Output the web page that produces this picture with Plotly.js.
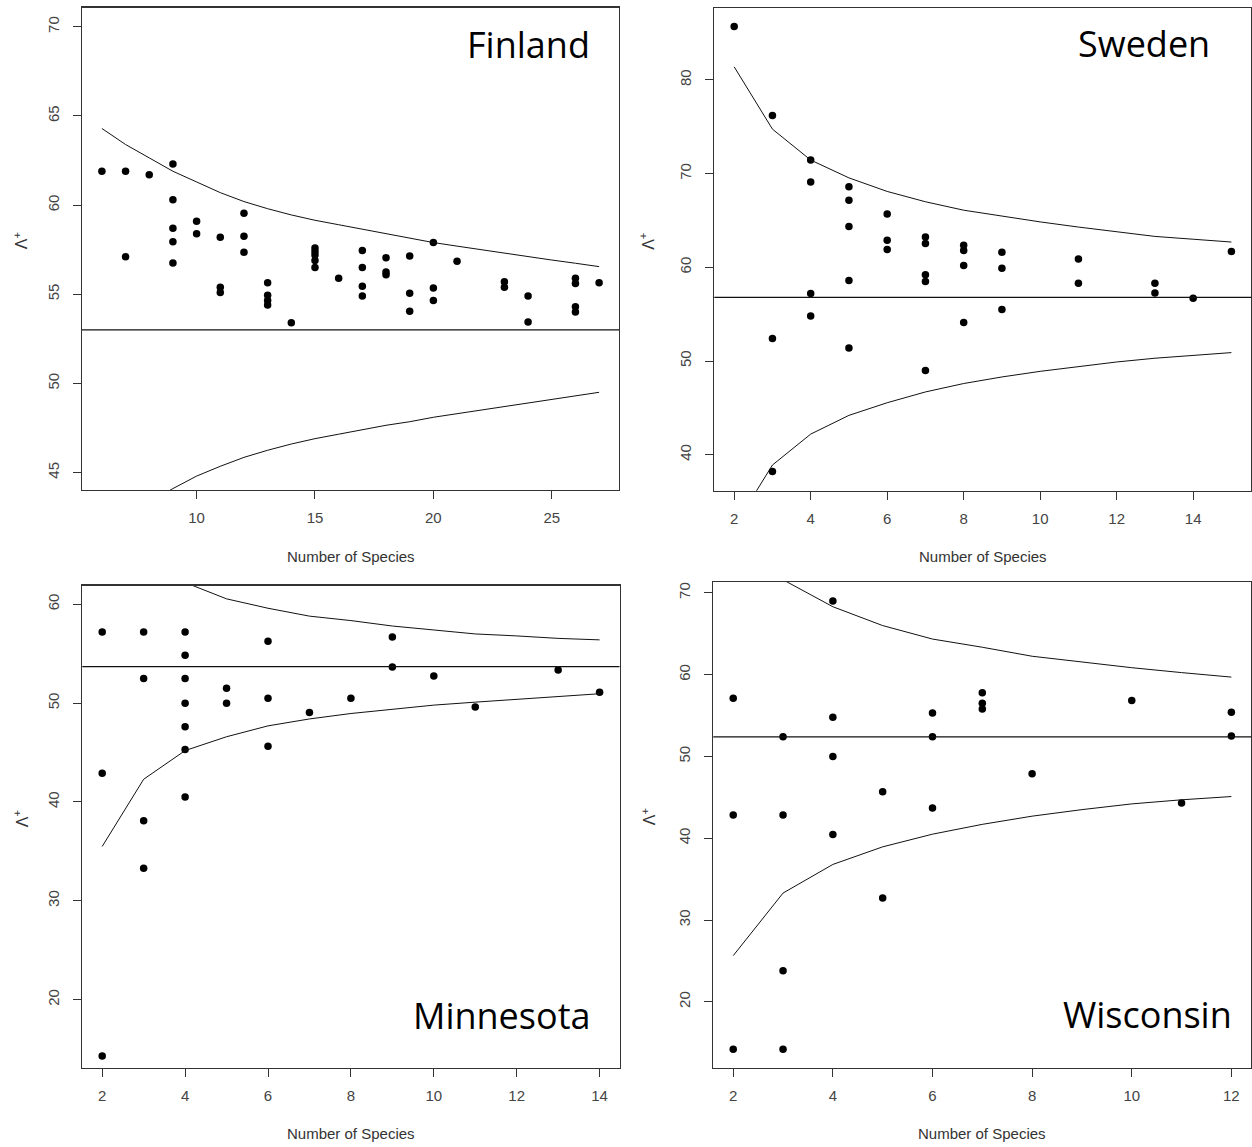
<!DOCTYPE html>
<html>
<head>
<meta charset="utf-8">
<script src="https://cdn.plot.ly/plotly-3.0.1.min.js"></script>
<style>
  html, body { margin: 0; padding: 0; background: #ffffff; }
  #chart { width: 1252px; height: 1147px; }
</style>
</head>
<body>
<div id="chart"></div>
<script>
// ---------- Data ----------
const panelNames = ["Finland", "Sweden", "Minnesota", "Wisconsin"];
const xAxisTitle = "Number of Species";
const yAxisTitle = "Λ<sup>+</sup>";

// Finland
const finX = [6, 7, 7, 8, 9, 9, 9, 9, 9, 10, 10, 11, 11, 11, 12, 12, 12, 13, 13, 13, 13, 14,
              15, 15, 15, 15, 15, 16, 17, 17, 17, 17, 18, 18, 18, 19, 19, 19, 20, 20, 20, 21,
              23, 23, 24, 24, 26, 26, 26, 26, 27];
const finY = [61.9, 61.9, 57.1, 61.7, 62.3, 60.3, 58.7, 57.95, 56.75, 59.1, 58.4, 58.2, 55.4, 55.1,
              59.55, 58.25, 57.35, 55.65, 54.95, 54.65, 54.4, 53.4,
              57.6, 57.4, 57.2, 56.9, 56.5, 55.9, 57.45, 56.5, 55.45, 54.9, 57.05, 56.25, 56.1,
              57.15, 55.05, 54.05, 57.9, 55.35, 54.65, 56.85,
              55.7, 55.4, 54.9, 53.45, 55.9, 55.6, 54.3, 54.0, 55.65];
const finM = [6, 7, 8, 9, 10, 11, 12, 13, 14, 15, 16, 17, 18, 19, 20, 21, 22, 23, 24, 25, 26, 27];
const finUpper = [64.3, 63.4, 62.65, 61.9, 61.3, 60.7, 60.2, 59.8, 59.45, 59.15, 58.9, 58.65, 58.38,
                  58.12, 57.9, 57.7, 57.5, 57.28, 57.1, 56.92, 56.74, 56.55];
const finLower = [41.7, 42.6, 43.35, 44.1, 44.8, 45.35, 45.85, 46.25, 46.6, 46.9, 47.15, 47.4, 47.65,
                  47.85, 48.1, 48.3, 48.5, 48.7, 48.9, 49.1, 49.3, 49.5];
const finMean = 53.0;

// Sweden
const sweX = [2, 3, 3, 3, 4, 4, 4, 4, 5, 5, 5, 5, 5, 6, 6, 6, 7, 7, 7, 7, 7,
              8, 8, 8, 8, 9, 9, 9, 11, 11, 13, 13, 14, 15];
const sweY = [85.7, 76.2, 52.4, 38.2, 71.45, 69.1, 57.2, 54.8, 68.6, 67.15, 64.35, 58.6, 51.4,
              65.7, 62.9, 61.9, 63.25, 62.55, 59.2, 58.5, 49.0,
              62.35, 61.8, 60.2, 54.1, 61.6, 59.9, 55.5, 60.9, 58.3, 58.3, 57.25, 56.7, 61.7];
const sweM = [2, 3, 4, 5, 6, 7, 8, 9, 10, 11, 12, 13, 14, 15];
const sweUpper = [81.4, 74.75, 71.45, 69.55, 68.1, 67.0, 66.1, 65.45, 64.85, 64.3, 63.8, 63.3, 63.0, 62.7];
const sweLower = [32.3, 38.9, 42.2, 44.2, 45.55, 46.7, 47.6, 48.3, 48.9, 49.4, 49.9, 50.3, 50.6, 50.9];
const sweMean = 56.8;

// Minnesota
const minX = [2, 2, 2, 3, 3, 3, 3, 4, 4, 4, 4, 4, 4, 4, 5, 5, 6, 6, 6, 7, 8, 9, 9, 10, 11, 13, 14];
const minY = [57.2, 42.9, 14.3, 57.2, 52.5, 38.1, 33.3, 57.2, 54.85, 52.5, 50.0, 47.6, 45.3, 40.5,
              51.5, 50.0, 56.25, 50.5, 45.65, 49.05, 50.5, 56.7, 53.65, 52.75, 49.6, 53.35, 51.1];
const minM = [2, 3, 4, 5, 6, 7, 8, 9, 10, 11, 12, 13, 14];
const minUpper = [71.9, 65.1, 62.2, 60.55, 59.6, 58.8, 58.35, 57.8, 57.4, 57.0, 56.8, 56.55, 56.4];
const minLower = [35.5, 42.3, 45.2, 46.6, 47.7, 48.4, 48.95, 49.4, 49.8, 50.1, 50.4, 50.7, 50.95];
const minMean = 53.7;

// Wisconsin
const wisX = [2, 2, 2, 3, 3, 3, 3, 4, 4, 4, 4, 5, 5, 6, 6, 6, 7, 7, 7, 8, 10, 11, 12, 12];
const wisY = [57.1, 42.85, 14.2, 52.4, 42.85, 23.8, 14.2, 69.0, 54.8, 50.0, 40.45, 45.7, 32.7,
              55.3, 52.4, 43.7, 57.8, 56.5, 55.8, 47.9, 56.85, 44.3, 55.4, 52.5];
const wisM = [2, 3, 4, 5, 6, 7, 8, 9, 10, 11, 12];
const wisUpper = [79.2, 71.6, 68.3, 66.0, 64.35, 63.35, 62.25, 61.55, 60.85, 60.25, 59.7];
const wisLower = [25.65, 33.3, 36.8, 38.95, 40.5, 41.7, 42.7, 43.5, 44.2, 44.7, 45.1];
const wisMean = 52.4;

// Axis ticks
const finXTicks = [10, 15, 20, 25];
const finYTicks = [45, 50, 55, 60, 65, 70];
const sweXTicks = [2, 4, 6, 8, 10, 12, 14];
const sweYTicks = [40, 50, 60, 70, 80];
const minXTicks = [2, 4, 6, 8, 10, 12, 14];
const minYTicks = [20, 30, 40, 50, 60];
const wisXTicks = [2, 4, 6, 8, 10, 12];
const wisYTicks = [20, 30, 40, 50, 60, 70];

// ---------- Layout geometry (pixels in a 1252 x 1147 page) ----------
const W = 1252, H = 1147;
const px = v => v / W;
const py = v => 1 - v / H;

const panels = [
  { name: panelNames[0], x: finX, y: finY, m: finM, up: finUpper, lo: finLower, mean: finMean,
    xt: finXTicks, yt: finYTicks, xr: [5.16, 27.84], yr: [44.02, 71.08],
    left: 82, right: 619, top: 7.6, bottom: 490,
    labelX: 592, labelY: 44, ylabX: 20.5 },
  { name: panelNames[1], x: sweX, y: sweY, m: sweM, up: sweUpper, lo: sweLower, mean: sweMean,
    xt: sweXTicks, yt: sweYTicks, xr: [1.48, 15.52], yr: [36.16, 87.68],
    left: 714.3, right: 1251.3, top: 8, bottom: 490.7,
    labelX: 1212, labelY: 43.7, ylabX: 647.5 },
  { name: panelNames[2], x: minX, y: minY, m: minM, up: minUpper, lo: minLower, mean: minMean,
    xt: minXTicks, yt: minYTicks, xr: [1.52, 14.48], yr: [13.11, 61.9],
    left: 82.3, right: 619.5, top: 585.5, bottom: 1067.8,
    labelX: 593, labelY: 1015.5, ylabX: 20.5 },
  { name: panelNames[3], x: wisX, y: wisY, m: wisM, up: wisUpper, lo: wisLower, mean: wisMean,
    xt: wisXTicks, yt: wisYTicks, xr: [1.6, 12.4], yr: [11.94, 71.35],
    left: 713.3, right: 1251.3, top: 581.8, bottom: 1067.8,
    labelX: 1233.5, labelY: 1014.5, ylabX: 648.5 }
];

const tickFont = { family: "Liberation Sans, Arial, sans-serif", size: 15, color: "#444444" };
const data = [];
const annotations = [];
const shapes = [];
const layout = {
  width: W, height: H,
  margin: { l: 0, r: 0, t: 0, b: 0, pad: 0 },
  paper_bgcolor: "#ffffff", plot_bgcolor: "#ffffff",
  showlegend: false,
  font: tickFont
};

panels.forEach((p, i) => {
  const sfx = i === 0 ? "" : String(i + 1);
  const xa = "x" + sfx, ya = "y" + sfx;
  // points
  data.push({ type: "scatter", mode: "markers", x: p.x, y: p.y, xaxis: xa, yaxis: ya,
    marker: { color: "#000000", size: 7.5, line: { width: 0 } }, hoverinfo: "skip", cliponaxis: false });
  // funnel curves
  data.push({ type: "scatter", mode: "lines", x: p.m, y: p.up, xaxis: xa, yaxis: ya,
    line: { color: "#111111", width: 1 }, hoverinfo: "skip" });
  data.push({ type: "scatter", mode: "lines", x: p.m, y: p.lo, xaxis: xa, yaxis: ya,
    line: { color: "#111111", width: 1 }, hoverinfo: "skip" });
  // mean line across the panel
  shapes.push({ type: "line", xref: xa + " domain", yref: ya, x0: 0, x1: 1, y0: p.mean, y1: p.mean,
    line: { color: "#111111", width: 1.2 } });

  const axCommon = {
    showgrid: false, zeroline: false, showline: true, mirror: true,
    linecolor: "#333333", linewidth: 1.3,
    ticks: "outside", ticklen: 8, tickwidth: 1, tickcolor: "#333333",
    tickfont: tickFont, fixedrange: true, tickmode: "array"
  };
  layout["xaxis" + sfx] = Object.assign({}, axCommon, {
    domain: [px(p.left), px(p.right)], range: p.xr, tickvals: p.xt, ticktext: p.xt.map(String),
    anchor: ya, ticklabelstandoff: 6
  });
  layout["yaxis" + sfx] = Object.assign({}, axCommon, {
    domain: [py(p.bottom), py(p.top)], range: p.yr, tickvals: p.yt, ticktext: p.yt.map(String),
    anchor: xa, tickangle: -90, ticklabelstandoff: 8
  });

  // panel name
  annotations.push({ xref: "paper", yref: "paper", x: px(p.labelX), y: py(p.labelY),
    xanchor: "right", yanchor: "middle", showarrow: false, text: p.name,
    font: { family: "Open Sans, Noto Sans, sans-serif", size: 36, color: "#000000" } });
  // x title
  annotations.push({ xref: "paper", yref: "paper", x: px((p.left + p.right) / 2),
    y: py(p.bottom + 66), xanchor: "center", yanchor: "middle", showarrow: false,
    text: xAxisTitle, font: { family: "Liberation Sans, Arial, sans-serif", size: 15, color: "#333333" } });
  // y title
  annotations.push({ xref: "paper", yref: "paper", x: px(p.ylabX), y: py((p.top + p.bottom) / 2 - 8),
    xanchor: "center", yanchor: "middle", showarrow: false, textangle: -90,
    text: yAxisTitle, font: { family: "Liberation Sans, Arial, sans-serif", size: 16, color: "#333333" } });
});

layout.annotations = annotations;
layout.shapes = shapes;

Plotly.newPlot("chart", data, layout, { staticPlot: true, displayModeBar: false });
</script>
</body>
</html>
